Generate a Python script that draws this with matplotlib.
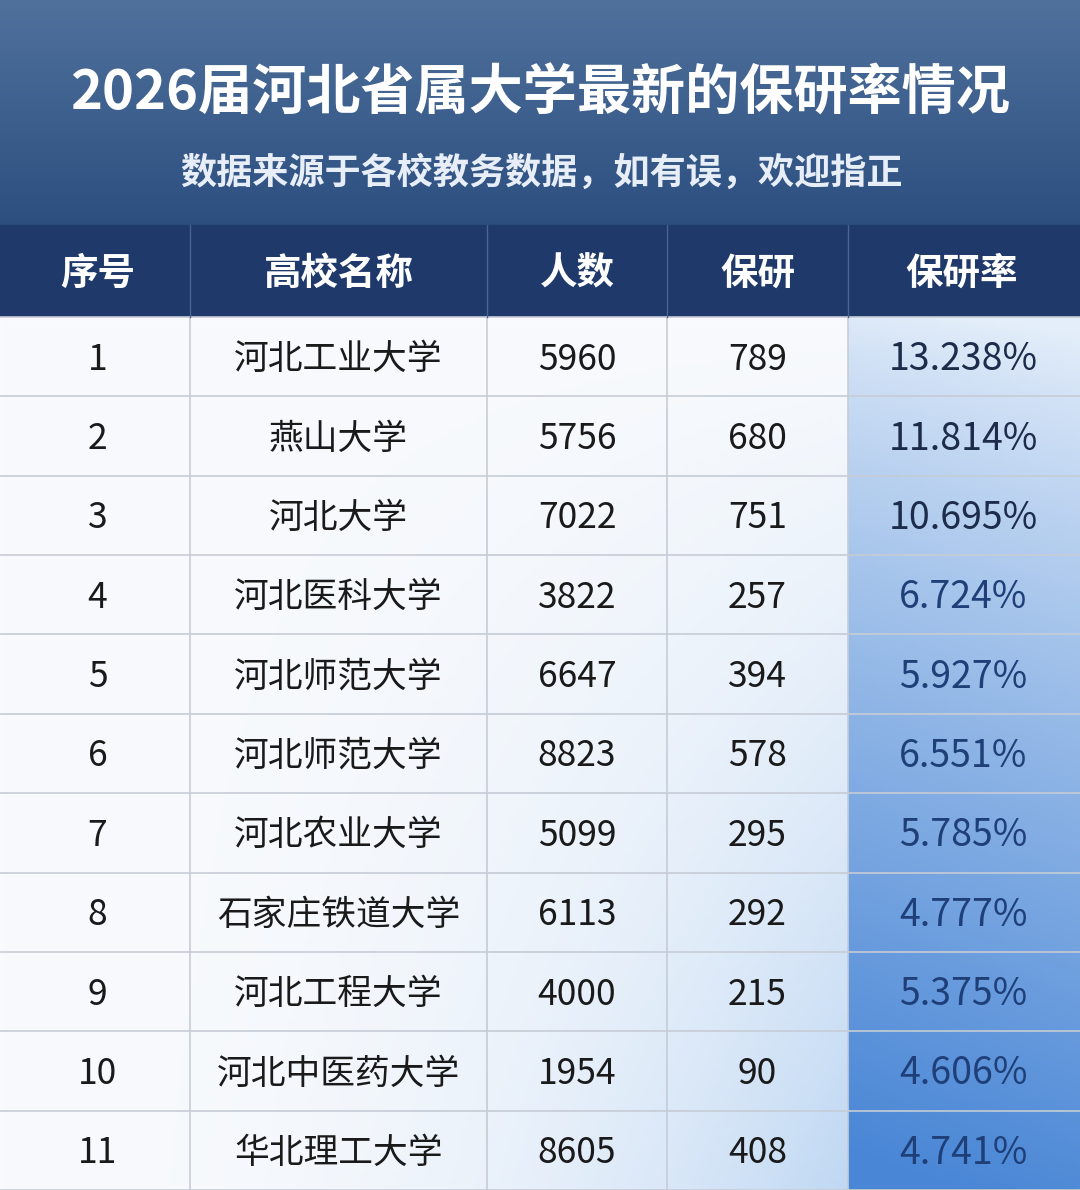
import numpy as np
import matplotlib
matplotlib.use("Agg")
import matplotlib.pyplot as plt
from matplotlib.colors import to_rgb

plt.rcParams['font.family'] = ['Noto Sans CJK SC', 'DejaVu Sans']

title = "2026届河北省属大学最新的保研率情况"
subtitle = "数据来源于各校教务数据，如有误，欢迎指正"
headers = ["序号", "高校名称", "人数", "保研", "保研率"]
ranks = [str(i) for i in range(1, 12)]
schools = ["河北工业大学", "燕山大学", "河北大学", "河北医科大学", "河北师范大学", "河北师范大学",
           "河北农业大学", "石家庄铁道大学", "河北工程大学", "河北中医药大学", "华北理工大学"]
students = [5960, 5756, 7022, 3822, 6647, 8823, 5099, 6113, 4000, 1954, 8605]
recommended = [789, 680, 751, 257, 394, 578, 295, 292, 215, 90, 408]
rates = ["13.238%", "11.814%", "10.695%", "6.724%", "5.927%", "6.551%", "5.785%",
         "4.777%", "5.375%", "4.606%", "4.741%"]

W, H = 1080, 1190
fig = plt.figure(figsize=(W/100, H/100), dpi=100)
ax = fig.add_axes([0, 0, 1, 1])
ax.set_xlim(0, W); ax.set_ylim(H, 0); ax.axis('off')

def grad(c1, c2, n=256):
    a, b = np.array(to_rgb(c1)), np.array(to_rgb(c2))
    t = np.linspace(0, 1, n)[:, None]
    return a + (b - a) * t

tb = grad("#50719c", "#2c4f80")[:, None, :].repeat(2, axis=1)
ax.imshow(tb, extent=(0, W, 225, 0), aspect='auto', zorder=0)
ax.text(W/2, 94, title, ha='center', va='center', color='white', fontsize=39, fontweight='bold')
ax.text(541, 173, subtitle, ha='center', va='center', color='#e8eef7', fontsize=26, fontweight='bold')

cols = [5, 190, 487, 667, 848, 1075]
top_h, row0 = 225, 317
rh = (H - row0) / 11
ax.add_patch(plt.Rectangle((0, top_h), W, row0 - top_h, color="#1f3a6a", zorder=1))
for i, h in enumerate(headers):
    ax.text((cols[i]+cols[i+1])/2, 273, h, ha='center', va='center', color='white',
            fontsize=27, fontweight='bold', zorder=3)

ny, nx = 200, 200
yy, xx = np.mgrid[0:1:ny*1j, 0:1:nx*1j]
t = np.clip((xx ** 2.5) * (yy ** 1.2) * 0.9, 0, 1)[..., None]
white = np.array(to_rgb("#f8fafd")); blue = np.array(to_rgb("#b9d4f2"))
img = white + (blue - white) * t
ax.imshow(img, extent=(0, cols[4], H, row0), aspect='auto', zorder=1)
yy2, xx2 = np.mgrid[0:1:256j, 0:1:64j]
c_top = np.array(to_rgb("#e4eefa")); c_bot = np.array(to_rgb("#4a87d6"))
tt = np.clip(yy2 ** 0.8 - 0.08 * xx2 + 0.04, 0, 1)[..., None]
img2 = c_top + (c_bot - c_top) * tt
ax.imshow(img2, extent=(cols[4], W, H, row0), aspect='auto', zorder=1)

for r in range(12):
    y = row0 + r * rh
    ax.plot([0, W], [y, y], color="#c6ccd6", lw=1.2, zorder=2)
for x in cols[1:5]:
    ax.plot([x, x], [row0, H], color="#c6ccd6", lw=1.2, zorder=2)
for x in cols[1:5]:
    ax.plot([x, x], [top_h, row0], color="#4a6290", lw=1, zorder=2)

for r in range(11):
    y = row0 + (r + 0.5) * rh + 3
    vals = [ranks[r], schools[r], str(students[r]), str(recommended[r])]
    for c, v in enumerate(vals):
        ax.text((cols[c]+cols[c+1])/2, y, v, ha='center', va='center', color='#1a1a1a',
                fontsize=25 if c == 1 else 25.5, zorder=3)
    rc = "#1c2c4a" if r < 3 else "#1f3f78"
    ax.text(963, y, rates[r], ha='center', va='center', color=rc, fontsize=27, zorder=3)

fig.savefig("out.png", dpi=100)
